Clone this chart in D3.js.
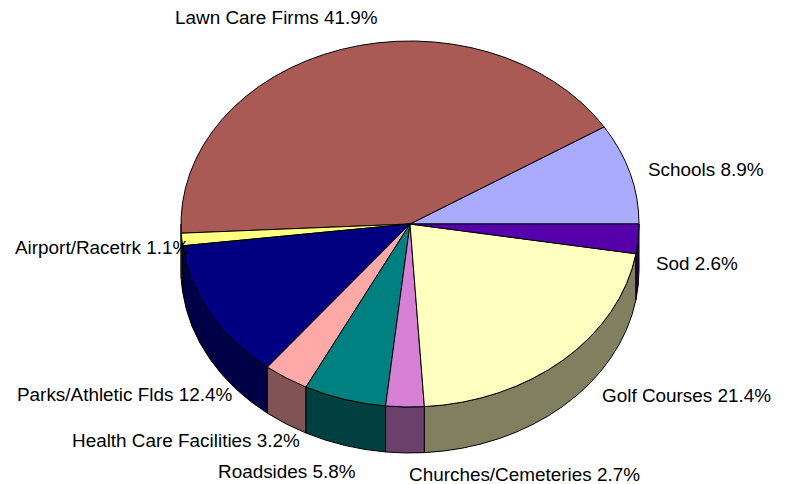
<!DOCTYPE html>
<html>
<head>
<meta charset="utf-8">
<script src="https://cdn.jsdelivr.net/npm/d3@7"></script>
<style>
body { margin: 0; background: #fff; }
text { font-family: "Liberation Sans", Arial, sans-serif; font-size: 18.9px; fill: #000; }
</style>
</head>
<body>
<div id="graf"></div>
<script>
const categorias = ["Schools", "Lawn Care Firms", "Airport/Racetrk", "Parks/Athletic Flds", "Health Care Facilities", "Roadsides", "Churches/Cemeteries", "Golf Courses", "Sod"]
const valores = [8.9, 41.9, 1.1, 12.4, 3.2, 5.8, 2.7, 21.4, 2.6]
const colores = ["#AAAAFF", "#A95A55", "#FFFF80", "#000080", "#FFA8A8", "#008080", "#D580D5", "#FFFFC0", "#5500AA"]
const coloresLado = ["#555580", "#552D2B", "#808040", "#000046", "#805455", "#004040", "#6B406B", "#808060", "#2B0055"]

// label placement (left edge, text centre line)
const etiquetaX = [648, 175, 15, 17, 72, 218, 409, 602, 656]
const etiquetaY = [169, 17, 247, 394, 440, 471, 474, 395, 263]

const ancho = 788
const alto = 484
const cx = 410
const cy = 224
const rx = 229
const ry = 183
const grosor = 46

const svg = d3.select("#graf").append("svg").attr("width", ancho).attr("height", alto).style("display", "block")

// counter-clockwise from 3 o'clock
const pie = d3.pie().sort(null).startAngle(Math.PI / 2).endAngle(Math.PI / 2 - 2 * Math.PI)
const arcos = pie(valores)

const px = (a) => cx + rx * Math.sin(a)
const py = (a, base) => base - ry * Math.cos(a)

const cara = (d) => {
    const grande = Math.abs(d.endAngle - d.startAngle) > Math.PI ? 1 : 0
    return `M${cx},${cy}L${px(d.startAngle)},${py(d.startAngle, cy)}A${rx},${ry} 0 ${grande} 0 ${px(d.endAngle)},${py(d.endAngle, cy)}Z`
}

// the wall only shows on the front half of the ellipse
const lado = (d) => {
    const a0 = Math.min(d.startAngle, -Math.PI / 2)
    const a1 = Math.max(d.endAngle, -3 * Math.PI / 2)
    if (a0 <= a1) return null
    return `M${px(a0)},${py(a0, cy)}A${rx},${ry} 0 0 0 ${px(a1)},${py(a1, cy)}` +
        `L${px(a1)},${py(a1, cy + grosor)}A${rx},${ry} 0 0 1 ${px(a0)},${py(a0, cy + grosor)}Z`
}

svg.append("g").selectAll("path")
    .data(arcos.filter(d => lado(d)))
    .enter()
    .append("path")
    .attr("d", lado)
    .attr("fill", d => coloresLado[d.index])
    .attr("stroke", "#000")
    .attr("stroke-width", 1)
    .attr("stroke-linejoin", "round")

svg.append("g").selectAll("path")
    .data(arcos)
    .enter()
    .append("path")
    .attr("d", cara)
    .attr("fill", d => colores[d.index])
    .attr("stroke", "#000")
    .attr("stroke-width", 1)
    .attr("stroke-linejoin", "round")

svg.append("g").selectAll("text")
    .data(categorias)
    .enter()
    .append("text")
    .attr("x", (d, i) => etiquetaX[i])
    .attr("y", (d, i) => etiquetaY[i])
    .attr("dy", "0.35em")
    .text((d, i) => `${d} ${valores[i].toFixed(1)}%`)
</script>
</body>
</html>
